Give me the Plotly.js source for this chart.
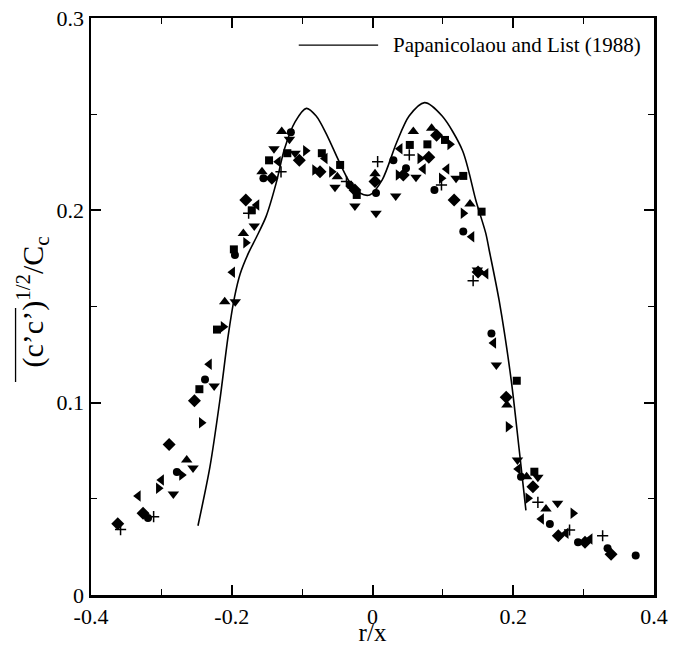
<!DOCTYPE html>
<html>
<head>
<meta charset="utf-8">
<script src="https://cdn.plot.ly/plotly-3.0.1.min.js"></script>
<style>html,body{margin:0;padding:0;background:#fff;}#chart{width:682px;height:646px;}</style>
</head>
<body>
<div id="chart"></div>
<script>
// Papanicolaou and List (1988) curve
const curveR = [-0.248,-0.231,-0.217,-0.205,-0.196,-0.188,-0.176,-0.165,-0.151,-0.137,-0.125,-0.11,-0.094,-0.08,-0.066,-0.047,-0.033,-0.018,-0.004,0.014,0.034,0.052,0.074,0.099,0.128,0.147,0.161,0.166,0.180,0.197,0.2085,0.218];
const curveV = [0.036,0.0666,0.101,0.135,0.155,0.167,0.178,0.186,0.197,0.214,0.232,0.246,0.253,0.249,0.240,0.225,0.215,0.209,0.208,0.216,0.235,0.249,0.256,0.249,0.231,0.205,0.188,0.179,0.153,0.112,0.0754,0.044];

const circleR = [-0.319,-0.278,-0.238,-0.1955,-0.155,-0.116,-0.032,0.005,0.0297,0.0476,0.088,0.129,0.169,0.211,0.252,0.292,0.334,0.374];
const circleV = [0.040,0.064,0.112,0.1768,0.2167,0.2406,0.213,0.209,0.226,0.2219,0.2106,0.189,0.136,0.0615,0.0369,0.0274,0.0243,0.0206];

const squareR = [-0.246,-0.221,-0.197,-0.1715,-0.147,-0.121,-0.072,-0.046,-0.0224,0.053,0.078,0.103,0.129,0.155,0.205,0.230];
const squareV = [0.107,0.138,0.1797,0.200,0.226,0.2297,0.2297,0.2236,0.208,0.234,0.2343,0.2366,0.2179,0.1993,0.1114,0.0641];

const diamondR = [-0.362,-0.326,-0.289,-0.253,-0.180,-0.143,-0.104,-0.0746,-0.025,0.0036,0.0438,0.080,0.091,0.116,0.150,0.190,0.228,0.264,0.302,0.339];
const diamondV = [0.037,0.0425,0.0783,0.101,0.2054,0.2167,0.226,0.220,0.2106,0.215,0.2184,0.2276,0.239,0.2054,0.168,0.1028,0.0563,0.0308,0.0274,0.0212];

const triUpR = [-0.264,-0.210,-0.1835,-0.157,-0.129,-0.050,0.0036,0.058,0.084,0.1385,0.191,0.219,0.2465];
const triUpV = [0.0702,0.1525,0.188,0.220,0.241,0.2175,0.219,0.241,0.2427,0.2033,0.0988,0.0615,0.0447];

const triDownR = [-0.283,-0.255,-0.225,-0.195,-0.168,-0.140,-0.118,-0.110,-0.0533,-0.025,0.005,0.033,0.0618,0.1187,0.149,0.176,0.206,0.235,0.263];
const triDownV = [0.0525,0.066,0.1087,0.1525,0.1919,0.232,0.237,0.2297,0.212,0.2023,0.1985,0.2075,0.2172,0.2167,0.169,0.1196,0.0702,0.0612,0.0477];

const triLeftR = [-0.333,-0.300,-0.232,-0.199,-0.1645,-0.134,-0.0675,0.039,0.072,0.1055,0.141,0.161,0.172,0.207,0.240,0.275,0.309];
const triLeftV = [0.0515,0.0598,0.120,0.1678,0.2028,0.2253,0.227,0.232,0.2215,0.2215,0.1863,0.167,0.131,0.0655,0.0395,0.0321,0.0291];

const triRightR = [-0.304,-0.271,-0.243,-0.212,-0.180,-0.095,-0.082,-0.058,0.0367,0.0675,0.098,0.110,0.129,0.193,0.221,0.285];
const triRightV = [0.0555,0.0624,0.0896,0.1395,0.1832,0.231,0.221,0.220,0.2184,0.227,0.2167,0.2343,0.1985,0.0875,0.0503,0.0425];

const plusR = [-0.358,-0.311,-0.176,-0.130,-0.037,0.0073,0.0523,0.098,0.143,0.235,0.280,0.327];
const plusV = [0.034,0.0407,0.1985,0.220,0.215,0.2253,0.2288,0.2132,0.1634,0.0482,0.0338,0.0308];

const xTicks = [-0.4,-0.2,0,0.2,0.4];
const xTickText = ['-0.4','-0.2','0','0.2','0.4'];
const yTicks = [0,0.1,0.2,0.3];
const yTickText = ['0','0.1','0.2','0.3'];
const legendLabel = 'Papanicolaou and List (1988)';
const xTitle = 'r/x';
const yTitle = '(c\u2019c\u2019)<sup>1/2</sup>/C<sub>c</sub>';

const FONT = '"Liberation Serif", "Times New Roman", Times, serif';
function sc(x, y, sym, size) {
  return {x: x, y: y, type: 'scatter', mode: 'markers', showlegend: false, hoverinfo: 'skip',
    marker: {symbol: sym, size: size, color: '#000', line: {width: 0, color: '#000'}}};
}
const traces = [
  {x: curveR, y: curveV, type: 'scatter', mode: 'lines', line: {color: '#000', width: 1.6, shape: 'spline', smoothing: 0.8}, name: legendLabel, showlegend: false},
  sc(circleR, circleV, 'circle', 8),
  sc(squareR, squareV, 'square', 8),
  sc(diamondR, diamondV, 'diamond', 10),
  sc(triUpR, triUpV, 'triangle-up', 10),
  sc(triDownR, triDownV, 'triangle-down', 10),
  sc(triLeftR, triLeftV, 'triangle-left', 10),
  sc(triRightR, triRightV, 'triangle-right', 10),
  {x: plusR, y: plusV, type: 'scatter', mode: 'markers', showlegend: false,
   marker: {symbol: 'cross-thin', size: 8, color: '#000', line: {width: 1.5, color: '#000'}}}
];
const axisCommon = {
  showgrid: false, zeroline: false, showline: true, linecolor: '#000', linewidth: 2.5,
  mirror: 'ticks', ticks: 'inside', ticklen: 10, tickwidth: 2, tickcolor: '#000',
  tickfont: {family: FONT, size: 22, color: '#000'}
};
const layout = {
  width: 682, height: 646,
  margin: {l: 91, r: 28, t: 18, b: 51},
  paper_bgcolor: '#fff', plot_bgcolor: '#fff',
  showlegend: false,
  font: {family: FONT, color: '#000'},
  xaxis: Object.assign({}, axisCommon, {
    range: [-0.4, 0.4], tickvals: xTicks, ticktext: xTickText,
    minor: {dtick: 0.1, tick0: 0, ticks: 'inside', ticklen: 6, tickwidth: 1, tickcolor: '#000'},
    title: {text: xTitle, font: {family: FONT, size: 25, color: '#000'}, standoff: 0}
  }),
  yaxis: Object.assign({}, axisCommon, {
    range: [0, 0.3], tickvals: yTicks, ticktext: yTickText,
    minor: {dtick: 0.05, tick0: 0, ticks: 'inside', ticklen: 6, tickwidth: 1, tickcolor: '#000'}
  }),
  shapes: [
    {type: 'line', xref: 'paper', yref: 'paper', x0: 0.369, x1: 0.51, y0: 0.953, y1: 0.953, line: {color: '#000', width: 1.2}},
    // overline of the y title
    {type: 'line', xref: 'paper', yref: 'paper', x0: -0.134, x1: -0.134, y0: (595 - 382) / 577, y1: (595 - 308) / 577, line: {color: '#000', width: 1.3}}
  ],
  annotations: [
    {xref: 'paper', yref: 'paper', x: -0.104, y: (595 - 302) / 577, xanchor: 'center', yanchor: 'middle', showarrow: false,
     textangle: -90, text: yTitle, font: {family: FONT, size: 30, color: '#000'}},
    {xref: 'paper', yref: 'paper', x: 0.533, y: 0.953, xanchor: 'left', yanchor: 'middle', showarrow: false,
     text: legendLabel, font: {family: FONT, size: 21, color: '#000'}}
  ]
};
Plotly.newPlot('chart', traces, layout, {displayModeBar: false, staticPlot: true});
</script>
</body>
</html>
